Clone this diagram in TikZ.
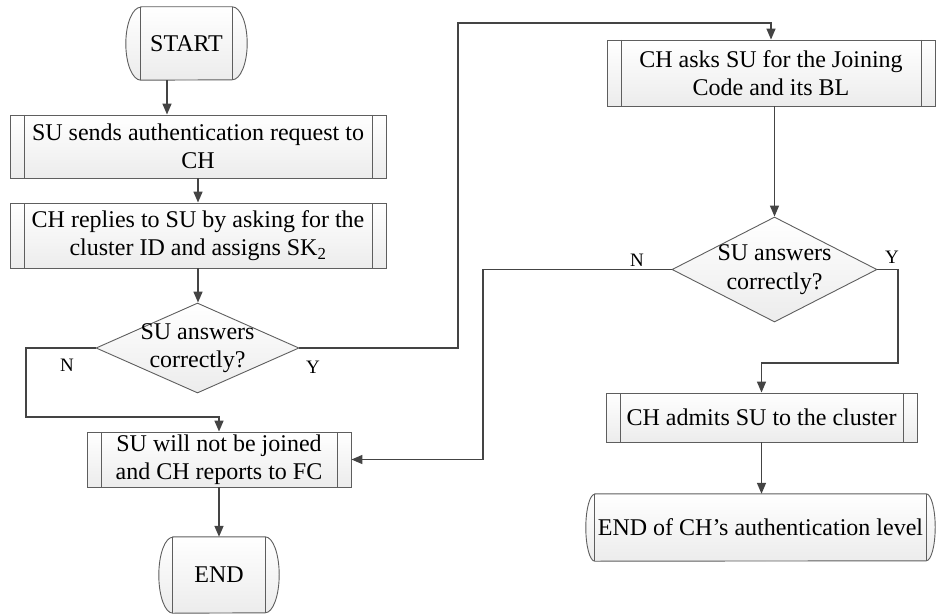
\documentclass[tikz,border=0pt]{standalone}
\usepackage{fontspec}
\setmainfont{Liberation Serif}
\usetikzlibrary{shapes.geometric,arrows.meta,backgrounds}

\definecolor{edgecol}{HTML}{5E5E5E}
\definecolor{linecol}{HTML}{444444}

\begin{document}
\begin{tikzpicture}[x=1pt, y=1pt, >={Triangle[length=11pt,width=9pt]},
  font=\fontsize{24}{28.3}\selectfont,
  shadebox/.style={draw=edgecol, line width=0.9pt, top color=white, bottom color=gray!15},
  procbox/.style={shadebox, inner sep=0pt, align=center,
    path picture={\draw[edgecol, line width=0.9pt]
      ([xshift=14pt]path picture bounding box.north west) -- ([xshift=14pt]path picture bounding box.south west)
      ([xshift=-14pt]path picture bounding box.north east) -- ([xshift=-14pt]path picture bounding box.south east);}},
  termbox/.style={inner sep=0pt, align=center},
  decision/.style={shadebox, diamond, inner sep=0pt},
  yn/.style={font=\fontsize{19}{21}\selectfont},
  arr/.style={->, draw=linecol, line width=1.5pt}]

\useasboundingbox (0,0) rectangle (936,-615);

% ----- Left column -----
\node[termbox, minimum width=91, minimum height=73] (start) at (186.5,-43.5) {START};
\node[procbox, minimum width=376, minimum height=63] (box1) at (198,-146.5)
  {SU sends authentication request to\\CH};
\node[procbox, minimum width=376, minimum height=65] (box2) at (198,-235.5)
  {CH replies to SU by asking for the\\cluster ID and assigns SK\textsubscript{2}};
\node[decision, minimum width=203, minimum height=90,
  label={[align=center]center:SU answers\\correctly?}] (dec1) at (197.5,-348) {};
\node[procbox, minimum width=264, minimum height=55] (box3) at (219,-459.5)
  {SU will not be joined\\and CH reports to FC};
\node[termbox, minimum width=92, minimum height=76] (endL) at (219,-575) {END};

% ----- Right column -----
\node[procbox, minimum width=328, minimum height=66] (box4) at (771,-73)
  {CH asks SU for the Joining\\Code and its BL};
\node[decision, minimum width=205, minimum height=105,
  label={[align=center]center:SU answers\\correctly?}] (dec2) at (774.5,-269.5) {};
\node[procbox, minimum width=311, minimum height=49] (box5) at (761.5,-417.5)
  {CH admits SU to the cluster};
\node[termbox, minimum width=331, minimum height=67] (endR) at (760.5,-527.5)
  {END of CH’s authentication level};

% ----- Terminal outlines -----
\begin{scope}[on background layer]
\foreach \n/\b/\r in {start/15/36.5, endL/14/38, endR/9/33.5}{
  \draw[shadebox] (\n.north west) -- (\n.north east)
    arc[start angle=90, end angle=-90, x radius=\b, y radius=\r]
    -- (\n.south west)
    arc[start angle=270, end angle=90, x radius=\b, y radius=\r] -- cycle;
  \draw[edgecol, line width=0.9pt] (\n.north west) -- (\n.south west)
    (\n.north east) -- (\n.south east);
}
\end{scope}

% ----- Bends -----
\coordinate (nbend) at (26,-417);
\coordinate (ybend) at (458,-23);
\coordinate (n2bend) at (483,-269.5);
\coordinate (y2bend) at (898,-363);

% ----- Connectors -----
\draw[arr] ([xshift=-19.5pt]start.south) -- ([xshift=-19.5pt]start.south |- box1.north);
\draw[arr] (box1.south) -- (box2.north);
\draw[arr] (box2.south) -- (box2.south |- dec1.north);
\draw[arr] (dec1.west) -| (nbend) -| (box3.north);
\draw[arr] (dec1.east) -| (ybend) -| (box4.north);
\draw[arr] (box3.south) -- (endL.north);
\draw[arr] (dec2.north |- box4.south) -- (dec2.north);
\draw[arr] (dec2.west) -- (n2bend) |- (box3.east);
\draw[arr] (dec2.east) -| (y2bend) -| (box5.north);
\draw[arr] (box5.south) -- (box5.south |- endR.north);

% ----- Branch labels -----
\node[yn] (n1) at (67,-365) {N};
\node[yn] (y1) at (313,-367) {Y};
\node[yn] (n2) at (637,-260) {N};
\node[yn] (y2) at (892,-257) {Y};
\end{tikzpicture}
\end{document}
